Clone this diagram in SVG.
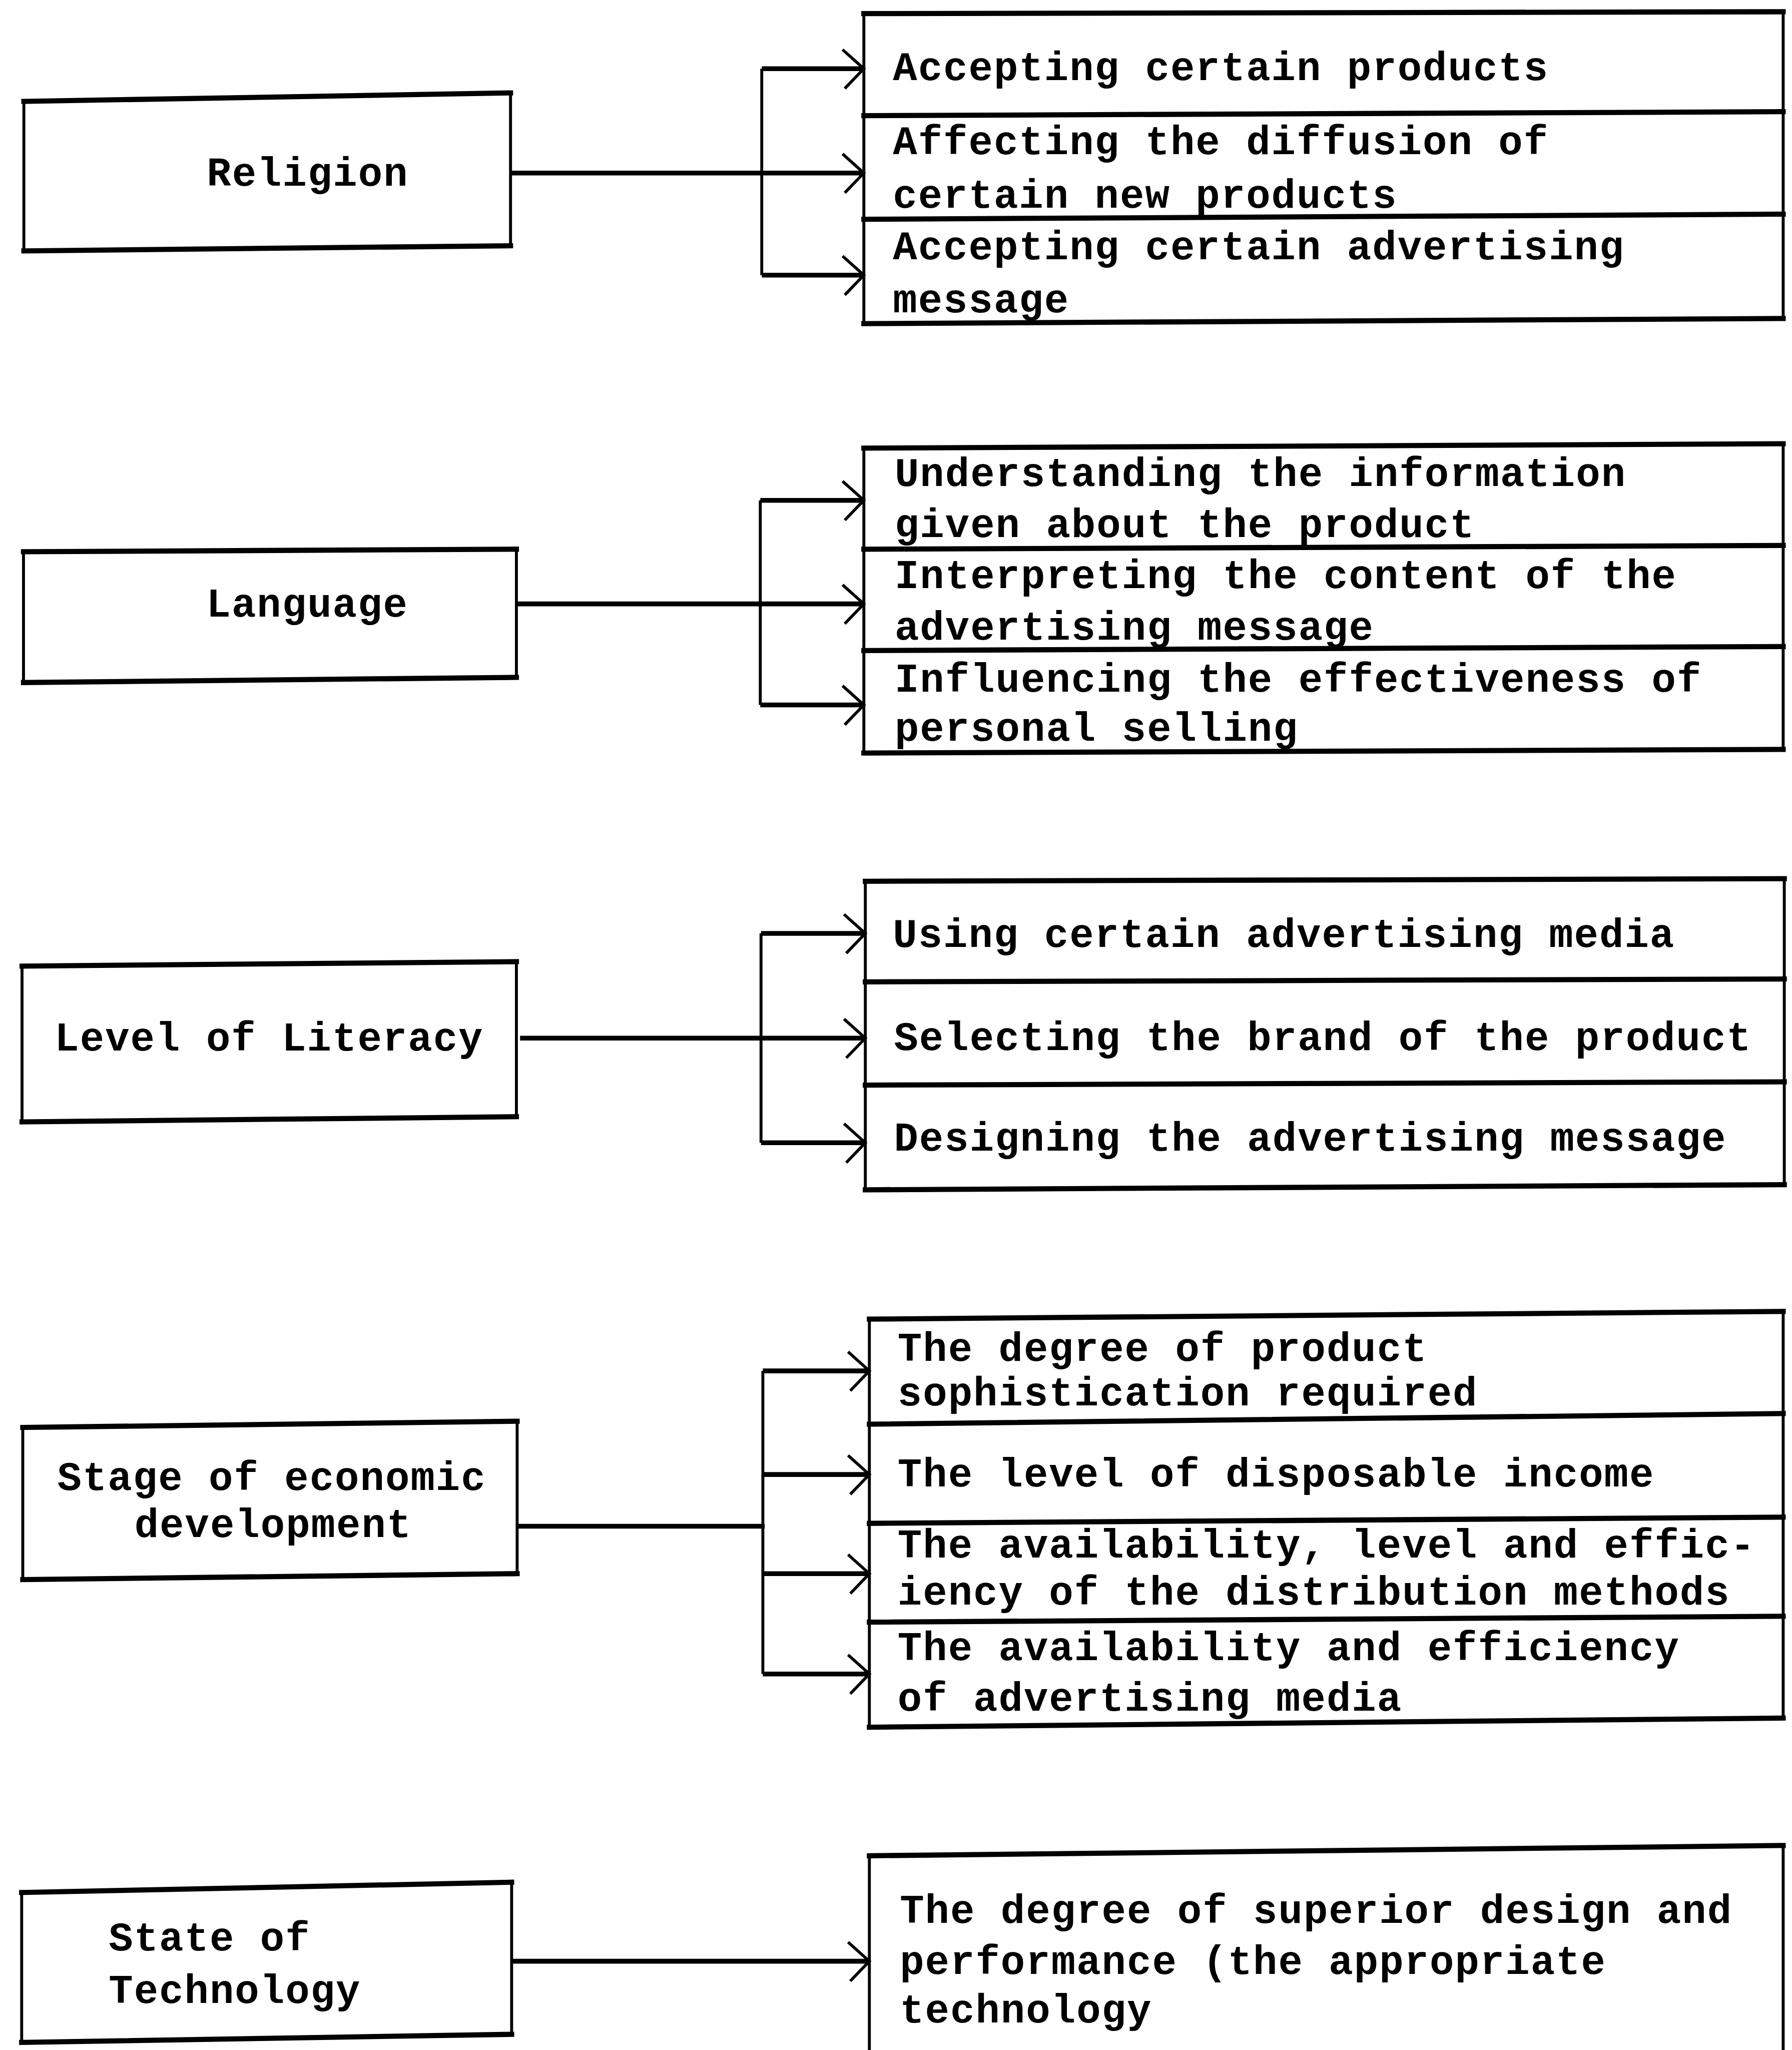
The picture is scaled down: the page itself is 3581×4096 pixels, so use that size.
<svg xmlns="http://www.w3.org/2000/svg" width="3581" height="4096" viewBox="0 0 3581 4096">
<defs>
<style>
.h{stroke:#000;stroke-width:14;fill:none;stroke-linecap:square}
.v{stroke:#000;stroke-width:8;fill:none;stroke-linecap:square}
.c{stroke:#000;stroke-width:13;fill:none}
.t{stroke:#000;stroke-width:8;fill:none}
text{font-family:"Liberation Mono","Courier New",monospace;font-weight:bold;font-size:110px;letter-spacing:2.7px;fill:#000}
</style>
<marker id="ah" markerUnits="userSpaceOnUse" viewBox="-70 -60 80 120" refX="0" refY="0" markerWidth="80" markerHeight="120" orient="auto">
<path d="M-58,-52 L0,0 L-52,54" fill="none" stroke="#000" stroke-width="8"/>
</marker>
</defs>
<rect width="3581" height="4096" fill="#fff"/>
<g transform="scale(0.73396)">
<g id="religion">
<line class="h" x1="65" y1="276" x2="1390" y2="253"/>
<line class="h" x1="65" y1="683" x2="1390" y2="669"/>
<line class="v" x1="65" y1="276" x2="65" y2="683"/>
<line class="v" x1="1390" y1="253" x2="1390" y2="669"/>
<text x="563" y="505">Religion</text>
</g>
<g id="religion-effects">
<line class="h" x1="2352" y1="37" x2="4855" y2="32"/>
<line class="h" x1="2352" y1="315" x2="4855" y2="304"/>
<line class="h" x1="2352" y1="597" x2="4855" y2="583"/>
<line class="h" x1="2352" y1="881" x2="4855" y2="867"/>
<line class="v" x1="2352" y1="37" x2="2352" y2="881"/>
<line class="v" x1="4855" y1="32" x2="4855" y2="867"/>
<text x="2431" y="218">Accepting certain products</text>
<text x="2431" y="419">Affecting the diffusion of</text>
<text x="2431" y="565">certain new products</text>
<text x="2431" y="706">Accepting certain advertising</text>
<text x="2431" y="850">message</text>
</g>
<g id="language">
<line class="h" x1="64" y1="1502" x2="1406" y2="1495"/>
<line class="h" x1="64" y1="1858" x2="1406" y2="1844"/>
<line class="v" x1="64" y1="1502" x2="64" y2="1858"/>
<line class="v" x1="1406" y1="1495" x2="1406" y2="1844"/>
<text x="562" y="1678">Language</text>
</g>
<g id="language-effects">
<line class="h" x1="2352" y1="1220" x2="4855" y2="1208"/>
<line class="h" x1="2352" y1="1495" x2="4855" y2="1485"/>
<line class="h" x1="2352" y1="1771" x2="4855" y2="1760"/>
<line class="h" x1="2352" y1="2050" x2="4855" y2="2040"/>
<line class="v" x1="2352" y1="1220" x2="2352" y2="2050"/>
<line class="v" x1="4855" y1="1208" x2="4855" y2="2040"/>
<text x="2436" y="1323">Understanding the information</text>
<text x="2436" y="1462">given about the product</text>
<text x="2436" y="1601">Interpreting the content of the</text>
<text x="2436" y="1741">advertising message</text>
<text x="2436" y="1883">Influencing the effectiveness of</text>
<text x="2436" y="2016">personal selling</text>
</g>
<g id="literacy">
<line class="h" x1="60" y1="2630" x2="1406" y2="2618"/>
<line class="h" x1="60" y1="3054" x2="1406" y2="3040"/>
<line class="v" x1="60" y1="2630" x2="60" y2="3054"/>
<line class="v" x1="1406" y1="2618" x2="1406" y2="3040"/>
<text x="149" y="2860">Level of Literacy</text>
</g>
<g id="literacy-effects">
<line class="h" x1="2356" y1="2399" x2="4858" y2="2392"/>
<line class="h" x1="2356" y1="2673" x2="4858" y2="2665"/>
<line class="h" x1="2356" y1="2954" x2="4858" y2="2945"/>
<line class="h" x1="2356" y1="3239" x2="4858" y2="3225"/>
<line class="v" x1="2356" y1="2399" x2="2356" y2="3239"/>
<line class="v" x1="4858" y1="2392" x2="4858" y2="3225"/>
<text x="2431" y="2578">Using certain advertising media</text>
<text x="2434" y="2859">Selecting the brand of the product</text>
<text x="2434" y="3133">Designing the advertising message</text>
</g>
<g id="economic">
<line class="h" x1="62" y1="3886" x2="1408" y2="3869"/>
<line class="h" x1="62" y1="4300" x2="1408" y2="4284"/>
<line class="v" x1="62" y1="3886" x2="62" y2="4300"/>
<line class="v" x1="1408" y1="3869" x2="1408" y2="4284"/>
<text x="156" y="4056">Stage of economic</text>
<text x="366" y="4184">development</text>
</g>
<g id="economic-effects">
<line class="h" x1="2367" y1="3591" x2="4855" y2="3570"/>
<line class="h" x1="2367" y1="3877" x2="4855" y2="3848"/>
<line class="h" x1="2367" y1="4147" x2="4855" y2="4130"/>
<line class="h" x1="2367" y1="4416" x2="4855" y2="4400"/>
<line class="h" x1="2367" y1="4702" x2="4855" y2="4677"/>
<line class="v" x1="2367" y1="3591" x2="2367" y2="4702"/>
<line class="v" x1="4855" y1="3570" x2="4855" y2="4677"/>
<text x="2444" y="3704">The degree of product</text>
<text x="2444" y="3826">sophistication required</text>
<text x="2444" y="4047">The level of disposable income</text>
<text x="2444" y="4240">The availability, level and effic-</text>
<text x="2444" y="4368">iency of the distribution methods</text>
<text x="2444" y="4520">The availability and efficiency</text>
<text x="2444" y="4657">of advertising media</text>
</g>
<g id="technology">
<line class="h" x1="59" y1="5152" x2="1393" y2="5124"/>
<line class="h" x1="59" y1="5560" x2="1393" y2="5538"/>
<line class="v" x1="59" y1="5152" x2="59" y2="5560"/>
<line class="v" x1="1393" y1="5124" x2="1393" y2="5538"/>
<text x="296" y="5310">State of</text>
<text x="296" y="5452">Technology</text>
</g>
<g id="technology-effects">
<line class="h" x1="2367" y1="5052" x2="4855" y2="5024"/>
<line class="v" x1="2367" y1="5052" x2="2367" y2="5600"/>
<line class="v" x1="4855" y1="5024" x2="4855" y2="5600"/>
<text x="2450" y="5234">The degree of superior design and</text>
<text x="2450" y="5373">performance (the appropriate</text>
<text x="2450" y="5506">technology</text>
</g>
<g id="connectors">
<line class="c" x1="1390" y1="471" x2="2352" y2="471" marker-end="url(#ah)"/>
<line class="t" x1="2074" y1="187" x2="2074" y2="749"/>
<line class="c" x1="2074" y1="187" x2="2352" y2="187" marker-end="url(#ah)"/>
<line class="c" x1="2074" y1="749" x2="2352" y2="749" marker-end="url(#ah)"/>
<line class="c" x1="1406" y1="1644" x2="2352" y2="1644" marker-end="url(#ah)"/>
<line class="t" x1="2070" y1="1362" x2="2070" y2="1919"/>
<line class="c" x1="2070" y1="1362" x2="2352" y2="1362" marker-end="url(#ah)"/>
<line class="c" x1="2070" y1="1919" x2="2352" y2="1919" marker-end="url(#ah)"/>
<line class="c" x1="1416" y1="2826" x2="2356" y2="2826" marker-end="url(#ah)"/>
<line class="t" x1="2072" y1="2541" x2="2072" y2="3111"/>
<line class="c" x1="2072" y1="2541" x2="2356" y2="2541" marker-end="url(#ah)"/>
<line class="c" x1="2072" y1="3111" x2="2356" y2="3111" marker-end="url(#ah)"/>
<line class="c" x1="1408" y1="4155" x2="2082" y2="4155"/>
<line class="t" x1="2077" y1="3732" x2="2077" y2="4557"/>
<line class="c" x1="2077" y1="3732" x2="2367" y2="3732" marker-end="url(#ah)"/>
<line class="c" x1="2077" y1="4014" x2="2367" y2="4014" marker-end="url(#ah)"/>
<line class="c" x1="2077" y1="4284" x2="2367" y2="4284" marker-end="url(#ah)"/>
<line class="c" x1="2077" y1="4557" x2="2367" y2="4557" marker-end="url(#ah)"/>
<line class="c" x1="1393" y1="5339" x2="2367" y2="5339" marker-end="url(#ah)"/>
</g>
</g>
</svg>
